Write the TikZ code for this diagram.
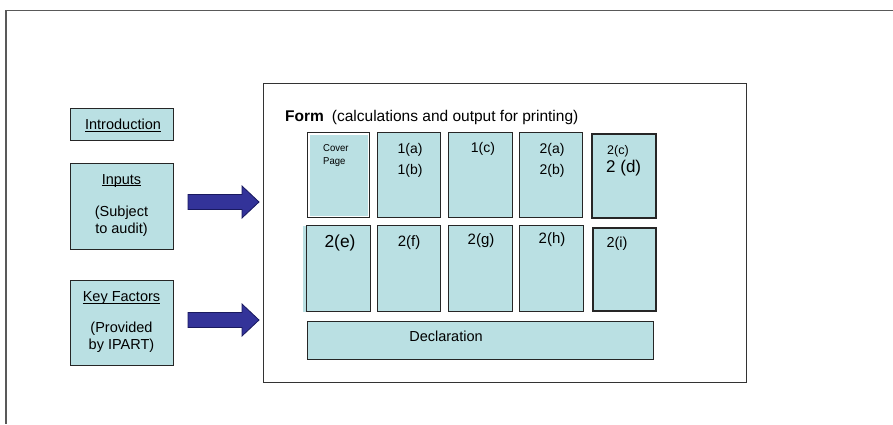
\documentclass[tikz,border=0pt]{standalone}
\usepackage{fontspec}
\setmainfont{Liberation Sans}
\usetikzlibrary{
  calc,
  positioning
}
\definecolor{boxteal}{RGB}{186,224,227}
\definecolor{arrowblue}{RGB}{51,51,153}
\definecolor{arrowedge}{RGB}{25,25,95}
\tikzset{
  line join=miter,
  box/.style={draw=black!85, fill=boxteal, line width=1.1pt, inner sep=0pt, anchor=north west},
  heavybox/.style={box, line width=1.8pt},
  formbox/.style={draw=black!80, line width=1pt, inner sep=0pt, anchor=north west},
  frameline/.style={draw=black!65, line width=1.5pt},
  txt/.style={inner sep=0pt, font=\fontsize{14.5}{17}\selectfont, align=center},
  blockarrow/.style={fill=arrowblue, draw=arrowedge, line width=0.8pt}
}
% 밑줄
\newcommand{\ulbox}[1]{\underline{\smash{#1}}}
% 블록 화살표
\newcommand{\blockarr}[2]{%
  \filldraw[blockarrow] ($(#1)+(0,-7.5)$) -- ($(#2)+(-17,-7.5)$) -- ($(#2)+(-17,-16)$)
    -- (#2) -- ($(#2)+(-17,16)$) -- ($(#2)+(-17,7.5)$) -- ($(#1)+(0,7.5)$) -- cycle;}

\begin{document}
\begin{tikzpicture}[x=1pt, y=-1pt]
\useasboundingbox (0,0) rectangle (893,424);

% 바깥 틀
\draw[frameline] (893,10.5) -- (6,10.5) -- (6,424);

% 왼쪽 상자
\node[box, minimum width=103pt, minimum height=32pt] (intro) at (70,108) {};
\node[box, minimum width=103pt, minimum height=86pt] (inputs) at (70,163) {};
\node[box, minimum width=103pt, minimum height=85pt] (keyf) at (70,280) {};
\node[txt, anchor=base] (introtxt) at (123,129.3) {\ulbox{Introduction}};
\node[txt, anchor=base] (inputstxt) at (121.5,233) {\ulbox{Inputs}\\[15pt](Subject\\to audit)};
\node[txt, anchor=base] (keyftxt) at (121.5,349.5) {\ulbox{Key Factors}\\[14pt](Provided\\by IPART)};

% 화살표
\coordinate (a1s) at (188,202);
\coordinate (a1e) at (259,202);
\coordinate (a2s) at (188,320);
\coordinate (a2e) at (259,320);
\blockarr{a1s}{a1e}
\blockarr{a2s}{a2e}

% 양식 틀
\node[formbox, minimum width=483pt, minimum height=299pt] (form) at (263,83) {};
\node[inner sep=0pt, anchor=base west, font=\fontsize{15.5}{17}\selectfont] (formtxt) at (285,121.7)
  {\textbf{Form}\hspace{8pt}(calculations and output for printing)};

% 윗줄
\node[box, minimum width=62pt, minimum height=85pt] (cover) at (307,132) {};
\draw[white, line width=1.2pt] ($(cover.north west)+(2,2)$) rectangle ($(cover.south east)+(-2,-2)$);
\node[box, minimum width=63pt, minimum height=85pt] (p1ab) at (377,132) {};
\node[box, minimum width=64pt, minimum height=85pt] (p1c) at (448,132) {};
\node[box, minimum width=63pt, minimum height=85pt] (p2ab) at (519,132) {};
\node[heavybox, minimum width=64pt, minimum height=84pt] (p2cd) at (591,133) {};

\node[inner sep=0pt, anchor=base west, align=left, font=\fontsize{10}{13}\selectfont,
  xscale=0.95] (covertxt) at (323,164.5) {Cover\\Page};
\node[txt, anchor=base, font=\fontsize{14}{21.5}\selectfont] (p1abtxt) at (410,174.7) {1(a)\\1(b)};
\node[txt, font=\fontsize{14}{17}\selectfont] (p1ctxt) at (483,148.5) {1(c)};
\node[txt, anchor=base, font=\fontsize{14}{21.5}\selectfont] (p2abtxt) at (552,174.7) {2(a)\\2(b)};
\node[txt, anchor=base west, font=\fontsize{12.5}{14}\selectfont] (p2ctxt) at (607,154) {2(c)};
\node[txt, anchor=base west, font=\fontsize{17}{19}\selectfont] (p2dtxt) at (606,172.4) {2 (d)};

% 아랫줄
\fill[boxteal] (303,226) rectangle (371,312);
\node[box, minimum width=64pt, minimum height=86pt] (p2e) at (306,225) {};
\node[box, minimum width=63pt, minimum height=86pt] (p2f) at (377,225) {};
\node[box, minimum width=64pt, minimum height=86pt] (p2g) at (448,225) {};
\node[box, minimum width=64pt, minimum height=86pt] (p2h) at (519,225) {};
\node[heavybox, minimum width=63pt, minimum height=83pt] (p2i) at (592,227) {};
\node[box, minimum width=346pt, minimum height=38pt] (decl) at (307,321) {};

\node[txt, font=\fontsize{17.4}{19}\selectfont] (p2etxt) at (340,242.5) {2(e)};
\node[txt, font=\fontsize{15}{17}\selectfont] (p2ftxt) at (409,242.5) {2(f)};
\node[txt, font=\fontsize{15}{17}\selectfont] (p2gtxt) at (481,241) {2(g)};
\node[txt, font=\fontsize{15}{17}\selectfont] (p2htxt) at (552,240) {2(h)};
\node[txt] (p2itxt) at (617,243.7) {2(i)};
\node[txt, anchor=base] (decltxt) at (446,341.5) {Declaration};

\end{tikzpicture}
\end{document}
